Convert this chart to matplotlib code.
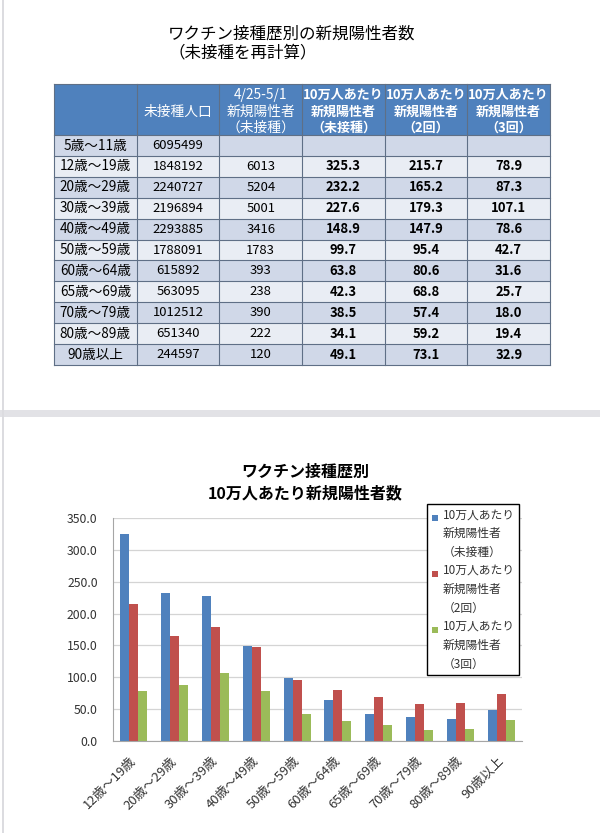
import numpy as np
import matplotlib
matplotlib.use("Agg")
import matplotlib.pyplot as plt
from matplotlib.patches import Rectangle
from matplotlib.container import BarContainer
from matplotlib.legend_handler import HandlerPatch
from matplotlib.ticker import FormatStrFormatter

plt.rcParams["font.family"] = ["Noto Sans CJK JP", "DejaVu Sans"]

# --- data ---
age_groups = ["5歳～11歳", "12歳～19歳", "20歳～29歳", "30歳～39歳", "40歳～49歳",
              "50歳～59歳", "60歳～64歳", "65歳～69歳", "70歳～79歳", "80歳～89歳", "90歳以上"]
unvax_pop = [6095499, 1848192, 2240727, 2196894, 2293885, 1788091,
             615892, 563095, 1012512, 651340, 244597]
new_cases_unvax = [None, 6013, 5204, 5001, 3416, 1783, 393, 238, 390, 222, 120]
rate_unvax = [None, 325.3, 232.2, 227.6, 148.9, 99.7, 63.8, 42.3, 38.5, 34.1, 49.1]
rate_2dose = [None, 215.7, 165.2, 179.3, 147.9, 95.4, 80.6, 68.8, 57.4, 59.2, 73.1]
rate_3dose = [None, 78.9, 87.3, 107.1, 78.6, 42.7, 31.6, 25.7, 18.0, 19.4, 32.9]

header_lines = [
    [],
    ["未接種人口"],
    ["4/25-5/1", "新規陽性者", "（未接種）"],
    ["10万人あたり", "新規陽性者", "（未接種）"],
    ["10万人あたり", "新規陽性者", "（2回）"],
    ["10万人あたり", "新規陽性者", "（3回）"],
]
series_labels = ["10万人あたり\n新規陽性者\n（未接種）",
                 "10万人あたり\n新規陽性者\n（2回）",
                 "10万人あたり\n新規陽性者\n（3回）"]

BLUE, RED, GREEN = "#4f81bd", "#c0504d", "#9bbb59"
HEADER_BLUE = "#4f81bd"
ROW_DARK, ROW_LIGHT = "#d0d8e8", "#e9edf4"
LINE = "#5f6f86"

fig = plt.figure(figsize=(6, 8.33), dpi=100, facecolor="white")

# panel separators (screenshot background)
fig.add_artist(Rectangle((0, 0.4994), 1, 0.0084, transform=fig.transFigure,
                         facecolor="#e2e2e6", edgecolor="none"))
fig.add_artist(Rectangle((0.004, 0), 0.003, 1, transform=fig.transFigure,
                         facecolor="#dcdce0", edgecolor="none"))

# ---------------- table ----------------
fig.text(0.28, 0.959, "ワクチン接種歴別の新規陽性者数", fontsize=11.9, va="center", ha="left")
fig.text(0.28, 0.936, "（未接種を再計算）", fontsize=11.9, va="center", ha="left")

tax = fig.add_axes([0.09, 0.5618, 0.8267, 0.3373])
n_rows = len(age_groups)
n_cols = 6
header_h = 2.44
tax.set_xlim(0, n_cols)
tax.set_ylim(header_h + n_rows, 0)
tax.axis("off")

tax.add_patch(Rectangle((0, 0), n_cols, header_h, facecolor=HEADER_BLUE, edgecolor="none"))
for i in range(n_rows):
    fc = ROW_DARK if i % 2 == 0 else ROW_LIGHT
    tax.add_patch(Rectangle((0, header_h + i), n_cols, 1, facecolor=fc, edgecolor="none"))

for c in range(n_cols + 1):
    tax.plot([c, c], [0, header_h + n_rows], color=LINE, lw=0.8, clip_on=False)
tax.plot([0, n_cols], [0, 0], color=LINE, lw=0.8, clip_on=False)
for r in range(n_rows + 1):
    tax.plot([0, n_cols], [header_h + r] * 2, color=LINE, lw=0.8, clip_on=False)

line_y = [0.53, 1.34, 2.11]
for c, lines in enumerate(header_lines):
    weight = "bold" if c >= 3 else "normal"
    size = 9.4 if c >= 3 else 9.9
    ys = [1.34] if len(lines) == 1 else line_y
    for txt, y in zip(lines, ys):
        tax.text(c + 0.5, y, txt, color="white", fontsize=size, fontweight=weight,
                 ha="center", va="center")

for i in range(n_rows):
    y = header_h + i + 0.5
    tax.text(0.5, y, age_groups[i], fontsize=9.8, ha="center", va="center")
    tax.text(1.5, y, str(unvax_pop[i]), fontsize=9.4, ha="center", va="center")
    if new_cases_unvax[i] is not None:
        tax.text(2.5, y, str(new_cases_unvax[i]), fontsize=9.4, ha="center", va="center")
    for c, col in zip([3, 4, 5], [rate_unvax, rate_2dose, rate_3dose]):
        if col[i] is not None:
            tax.text(c + 0.5, y, f"{col[i]:.1f}", fontsize=9.4, fontweight="bold",
                     ha="center", va="center")

# ---------------- bar chart ----------------
fig.text(0.508, 0.4334, "ワクチン接種歴別", fontsize=11.5, fontweight="bold", ha="center", va="center")
fig.text(0.508, 0.4082, "10万人あたり新規陽性者数", fontsize=11.5, fontweight="bold", ha="center", va="center")

ax = fig.add_axes([0.1883, 0.1104, 0.6817, 0.2677])
chart_groups = age_groups[1:]
x = np.arange(len(chart_groups))
w = 0.22
b1 = ax.bar(x - w, rate_unvax[1:], w, color=BLUE, zorder=2)
b2 = ax.bar(x, rate_2dose[1:], w, color=RED, zorder=2)
b3 = ax.bar(x + w, rate_3dose[1:], w, color=GREEN, zorder=2)

ax.set_xlim(-0.5, len(chart_groups) - 0.5)
ax.set_ylim(0, 350)
ax.set_yticks(np.arange(0, 351, 50))
ax.yaxis.set_major_formatter(FormatStrFormatter("%.1f"))
ax.grid(axis="y", color="#d4d4d4", lw=0.9, zorder=0)
ax.set_axisbelow(True)
for s in ["top", "right"]:
    ax.spines[s].set_visible(False)
ax.spines["left"].set_color("#a6a6a6")
ax.spines["bottom"].set_color("#a6a6a6")
ax.tick_params(axis="y", length=0, pad=11, labelsize=8.8, labelcolor="#333333")
ax.tick_params(axis="x", length=0, pad=13, labelsize=9.4, labelcolor="#333333")
ax.set_xticks(x)
ax.set_xticklabels(chart_groups, rotation=45, ha="right", va="center", rotation_mode="anchor")


class TopSquare(HandlerPatch):
    def create_artists(self, legend, orig_handle, xdescent, ydescent,
                       width, height, fontsize, trans):
        s = 0.5 * fontsize
        px = -xdescent + (width - s) / 2
        py = -ydescent + (height - s) / 2 + 1.38 * fontsize
        fc = orig_handle.patches[0].get_facecolor()
        return [Rectangle((px, py), s, s, facecolor=fc, edgecolor="none", transform=trans)]


leg = ax.legend([b1, b2, b3], series_labels, loc="upper left",
                bbox_to_anchor=(0.7117, 0.395), bbox_transform=fig.transFigure,
                fontsize=8.5, frameon=True, fancybox=False, framealpha=1,
                edgecolor="black", handlelength=0.6, handleheight=0.6,
                handletextpad=0.4, borderpad=0.35, labelspacing=0.45, borderaxespad=0,
                handler_map={BarContainer: TopSquare()})
leg.get_frame().set_linewidth(1.0)
for t in leg.get_texts():
    t.set_linespacing(1.58)
    t.set_color("#333333")

fig.savefig("out.png", dpi=100, facecolor="white")
